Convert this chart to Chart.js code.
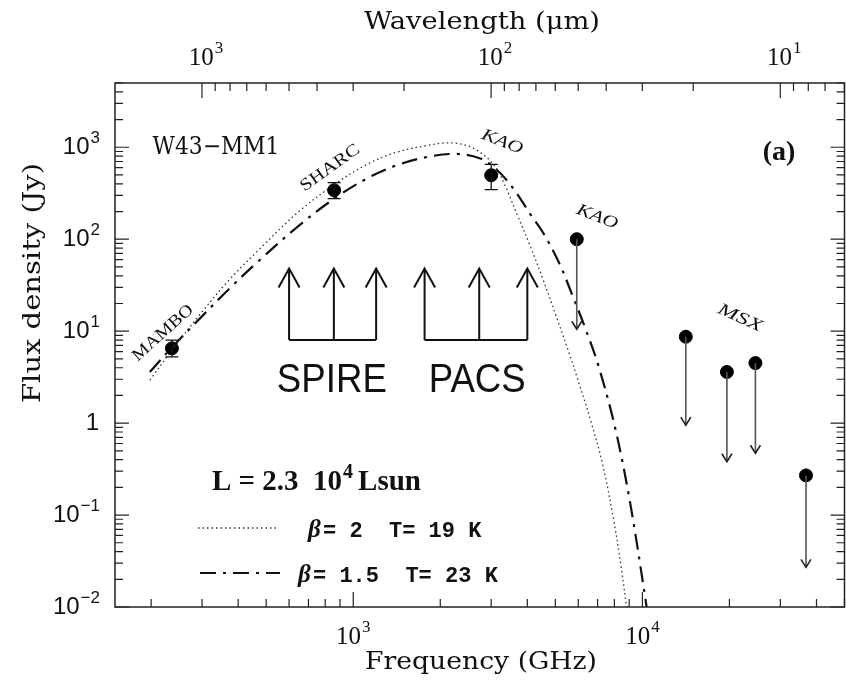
<!DOCTYPE html>
<html>
<head>
<meta charset="utf-8">
<script src="https://cdn.jsdelivr.net/npm/chart.js@4.4.0/dist/chart.umd.min.js"></script>
<style>
  html, body { margin: 0; padding: 0; background: #fff; overflow: hidden; }
  #wrap { width: 852px; height: 683px; }
</style>
</head>
<body>
<div id="wrap"><canvas id="sed" width="852" height="683"></canvas></div>
<script>
// ------------------- DATA -------------------

// detections with error bars
let detNames = ["MAMBO", "SHARC", "KAO"];
let detFreq = [236, 859, 3000];          // GHz
let detFlux = [6.5, 341, 496];           // Jy
let detHigh = [8.0, 413, 653];
let detLow = [5.26, 277, 347];

// upper limits (KAO 50um + MSX)
let limFreq = [5930, 14130, 19600, 24600, 36800];
let limFlux = [100, 8.7, 3.6, 4.5, 0.27];
let limEnd = [10.5, 0.95, 0.38, 0.47, 0.027];

// model beta=2, T=19 K (dotted)
let modAFreq = [198, 235, 294, 372, 471, 646, 866, 1123, 1423, 1803, 2030, 2286, 2573, 2896, 3134, 3391, 3669, 4067, 4541, 5031, 5576, 5986, 6633, 7293, 7955, 8474, 8884];
let modAFlux = [2.94, 6.08, 15.0, 36.0, 76.4, 198, 399, 658, 889, 1046, 1108, 1105, 995, 774, 581, 352, 193, 88.8, 36.0, 14.6, 5.80, 2.94, 1.05, 0.351, 0.0885, 0.0253, 0.0082];

// model beta=1.5, T=23 K (dash-dot)
let modBFreq = [198, 235, 294, 372, 471, 646, 866, 1123, 1423, 1803, 2286, 2785, 3060, 3391, 3728, 4067, 4541, 5153, 5756, 6378, 7067, 8081, 9096, 10320, 10486];
let modBFlux = [3.60, 6.56, 13.6, 28.8, 58.0, 139, 281, 463, 642, 784, 846, 746, 611, 441, 296, 193, 117, 55.2, 23.6, 10.3, 4.08, 0.843, 0.129, 0.0105, 0.0072];

// Herschel bands drawn as arrows (GHz) and the arrow span (Jy)
let spireBands = [600, 857, 1200];
let pacsBands = [1765, 2727, 4000];
let bandBase = 8;
let bandTip = 48;

// axis ticks
let freqMajor = [1e3, 1e4];
let lambdaMajor = [1000, 100, 10];
let fluxMajor = [1e3, 1e2, 10, 1, 0.1, 0.01];
let fluxExp = ["3", "2", "1", "", "\u22121", "\u22122"];

const C_UM = 299792.458; // GHz * um

// ------------------- HELPERS -------------------

function toXY(xs, ys) {
  return xs.map((v, i) => ({ x: v, y: ys[i] }));
}

function fitText(ctx, txt, cx, cy, width, font, angle) {
  ctx.save();
  ctx.translate(cx, cy);
  if (angle) ctx.rotate(angle);
  ctx.font = font;
  let w = ctx.measureText(txt).width;
  ctx.scale(width / w, 1);
  ctx.textAlign = "center";
  ctx.textBaseline = "middle";
  ctx.fillText(txt, 0, 0);
  ctx.restore();
}

function powLabel(ctx, exp, x, y, align, baseFont, supFont, rise) {
  ctx.font = baseFont;
  let wb = ctx.measureText("10").width;
  ctx.font = supFont;
  let ws = ctx.measureText(exp).width;
  let x0 = align === "right" ? x - wb - ws - 1 : x - (wb + ws + 1) / 2;
  ctx.textAlign = "left";
  ctx.textBaseline = "middle";
  ctx.font = baseFont;
  ctx.fillText("10", x0, y);
  ctx.font = supFont;
  ctx.fillText(exp, x0 + wb + 1, y - rise);
}

function minorList(min, max) {
  let out = [];
  for (let d = Math.floor(Math.log10(min)); d <= Math.ceil(Math.log10(max)); d++) {
    for (let k = 1; k < 10; k++) {
      let v = k * Math.pow(10, d);
      if (v >= min && v <= max) out.push({ v: v, major: k === 1 });
    }
  }
  return out;
}

function arrowHead(ctx, x, y, w, h, dir) {
  // open chevron, dir = 1 points down, -1 points up
  ctx.beginPath();
  ctx.moveTo(x - w / 2, y - dir * h);
  ctx.lineTo(x, y);
  ctx.lineTo(x + w / 2, y - dir * h);
  ctx.stroke();
}

// ------------------- EXTRA DRAWING -------------------

let decor = {
  id: "decor",
  afterDatasetsDraw(chart) {
    let ctx = chart.ctx;
    let sx = chart.scales.x, sy = chart.scales.y;
    ctx.save();

    // error bars
    ctx.strokeStyle = "#111";
    ctx.lineWidth = 1.3;
    detFreq.forEach((f, i) => {
      let px = sx.getPixelForValue(f);
      let top = sy.getPixelForValue(detHigh[i]);
      let bot = sy.getPixelForValue(detLow[i]);
      ctx.beginPath();
      ctx.moveTo(px, top); ctx.lineTo(px, bot);
      ctx.moveTo(px - 6.5, top); ctx.lineTo(px + 6.5, top);
      ctx.moveTo(px - 6.5, bot); ctx.lineTo(px + 6.5, bot);
      ctx.stroke();
    });

    // upper limit arrows
    limFreq.forEach((f, i) => {
      let px = sx.getPixelForValue(f);
      let y0 = sy.getPixelForValue(limFlux[i]);
      let y1 = sy.getPixelForValue(limEnd[i]);
      ctx.strokeStyle = "#555";
      ctx.lineWidth = 1.6;
      ctx.beginPath();
      ctx.moveTo(px, y0); ctx.lineTo(px, y1);
      ctx.stroke();
      ctx.strokeStyle = "#222";
      arrowHead(ctx, px, y1, 10, 8, 1);
    });

    // SPIRE / PACS band arrows
    ctx.strokeStyle = "#111";
    ctx.lineWidth = 2;
    [spireBands, pacsBands].forEach(bands => {
      let yb = sy.getPixelForValue(bandBase);
      let yt = sy.getPixelForValue(bandTip);
      let xs = bands.map(b => sx.getPixelForValue(b));
      ctx.beginPath();
      ctx.moveTo(xs[0], yb); ctx.lineTo(xs[xs.length - 1], yb);
      xs.forEach(x => { ctx.moveTo(x, yb); ctx.lineTo(x, yt + 1); });
      ctx.stroke();
      xs.forEach(x => arrowHead(ctx, x, yt, 21, 19, -1));
    });
    ctx.fillStyle = "#111";
    let yLab = sy.getPixelForValue(bandBase) + 41;
    ["SPIRE", "PACS"].forEach((t, i) => {
      let bands = i === 0 ? spireBands : pacsBands;
      let cx = sx.getPixelForValue(bands[1]);
      fitText(ctx, t, cx - 2, yLab, t === "SPIRE" ? 110 : 97, "40px 'Liberation Sans'");
    });
    ctx.restore();
  },
  afterDraw(chart) {
    let ctx = chart.ctx;
    let a = chart.chartArea;
    let sx = chart.scales.x, sy = chart.scales.y;
    ctx.save();

    // frame
    ctx.strokeStyle = "#222";
    ctx.lineWidth = 1.5;
    ctx.strokeRect(a.left, a.top, a.right - a.left, a.bottom - a.top);

    // ticks
    ctx.lineWidth = 1.2;
    ctx.beginPath();
    minorList(sx.min, sx.max).forEach(t => {
      let px = sx.getPixelForValue(t.v);
      let len = t.major ? 15 : 8;
      ctx.moveTo(px, a.bottom); ctx.lineTo(px, a.bottom - len);
    });
    minorList(C_UM / sx.max, C_UM / sx.min).forEach(t => {
      let px = sx.getPixelForValue(C_UM / t.v);
      let len = t.major ? 15 : 8;
      ctx.moveTo(px, a.top); ctx.lineTo(px, a.top + len);
    });
    minorList(sy.min, sy.max).forEach(t => {
      let py = sy.getPixelForValue(t.v);
      let len = t.major ? 14 : 8;
      ctx.moveTo(a.left, py); ctx.lineTo(a.left + len, py);
      ctx.moveTo(a.right, py); ctx.lineTo(a.right - len, py);
    });
    ctx.stroke();

    // tick labels
    ctx.fillStyle = "#111";
    freqMajor.forEach(v => {
      powLabel(ctx, String(Math.log10(v)), sx.getPixelForValue(v), 637, "center",
        "25px 'Liberation Serif'", "17px 'Liberation Serif'", 9);
    });
    lambdaMajor.forEach(v => {
      powLabel(ctx, String(Math.log10(v)), sx.getPixelForValue(C_UM / v) + 4, 58, "center",
        "25px 'Liberation Serif'", "17px 'Liberation Serif'", 9);
    });
    fluxMajor.forEach((v, i) => {
      let py = sy.getPixelForValue(v);
      if (fluxExp[i] === "") {
        ctx.font = "24px 'Liberation Sans'";
        ctx.textAlign = "right";
        ctx.textBaseline = "middle";
        ctx.fillText("1", 99, py);
      } else {
        powLabel(ctx, fluxExp[i], 100, py, "right",
          "24px 'Liberation Sans'", "17px 'Liberation Sans'", 9);
      }
    });

    // axis titles
    fitText(ctx, "Wavelength (\u03bcm)", 482, 22, 236, "25px 'DejaVu Serif'");
    fitText(ctx, "Frequency (GHz)", 481, 662, 232, "25px 'DejaVu Serif'");
    fitText(ctx, "Flux density (Jy)", 33, 283, 240, "25px 'DejaVu Serif'", -Math.PI / 2);

    // labels in the plot
    fitText(ctx, "W43\u2212MM1", 216, 148, 127, "24px 'DejaVu Serif'");
    ctx.font = "bold 28px 'Liberation Serif'";
    ctx.textAlign = "center";
    ctx.textBaseline = "middle";
    ctx.fillText("(a)", 779, 153);

    let tags = [
      ["MAMBO", 163, 333, 76, -0.73, "17px 'Liberation Serif'"],
      ["SHARC", 330, 168, 69, -0.62, "17px 'Liberation Serif'"],
      ["KAO", 502, 142, 43, 0.38, "italic 17px 'Liberation Serif'"],
      ["KAO", 597, 217, 43, 0.38, "italic 17px 'Liberation Serif'"],
      ["MSX", 740, 318, 47, 0.42, "italic 17px 'Liberation Serif'"]
    ];
    tags.forEach(t => fitText(ctx, t[0], t[1], t[2], t[3], t[5], t[4]));

    // luminosity + legend
    ctx.textAlign = "left";
    ctx.textBaseline = "alphabetic";
    ctx.font = "bold 29px 'Liberation Serif'";
    ctx.fillText("L = 2.3  10", 212, 490);
    let w1 = ctx.measureText("L = 2.3  10").width;
    ctx.font = "bold 20px 'Liberation Serif'";
    ctx.fillText("4", 212 + w1 + 1, 478);
    ctx.font = "bold 29px 'Liberation Serif'";
    ctx.fillText("Lsun", 212 + w1 + 16, 490);

    ctx.strokeStyle = "#333";
    ctx.lineWidth = 1.3;
    ctx.setLineDash([1.5, 3]);
    ctx.beginPath(); ctx.moveTo(198, 528); ctx.lineTo(278, 528); ctx.stroke();
    ctx.strokeStyle = "#111";
    ctx.lineWidth = 2.2;
    ctx.setLineDash([16, 7, 3, 7]);
    ctx.beginPath(); ctx.moveTo(200, 573); ctx.lineTo(280, 573); ctx.stroke();
    ctx.setLineDash([]);

    ctx.font = "bold italic 25px 'Liberation Serif'";
    ctx.fillText("\u03b2", 308, 537);
    ctx.fillText("\u03b2", 298, 582);
    ctx.font = "bold 22px 'Liberation Mono'";
    ctx.fillText("= 2  T= 19 K", 323, 537);
    ctx.fillText("= 1.5  T= 23 K", 313, 582);

    ctx.restore();
  }
};

// ------------------- CHART -------------------

let chartSed = new Chart(document.getElementById("sed").getContext("2d"), {
  type: "line",
  data: {
    datasets: [
      {
        data: toXY(modAFreq, modAFlux),
        borderColor: "#333",
        borderWidth: 1.3,
        borderDash: [1.5, 3],
        pointRadius: 0,
        tension: 0.35,
        fill: false
      },
      {
        data: toXY(modBFreq, modBFlux),
        borderColor: "#111",
        borderWidth: 2.2,
        borderDash: [16, 7, 3, 7],
        pointRadius: 0,
        tension: 0.35,
        fill: false
      },
      {
        type: "scatter",
        data: toXY(detFreq, detFlux),
        pointRadius: 6.5,
        pointBackgroundColor: "#000",
        pointBorderColor: "#000",
        showLine: false
      },
      {
        type: "scatter",
        data: toXY(limFreq, limFlux),
        pointRadius: 6.5,
        pointBackgroundColor: "#000",
        pointBorderColor: "#000",
        showLine: false
      }
    ]
  },
  options: {
    responsive: false,
    animation: false,
    devicePixelRatio: 1,
    layout: { padding: { left: 115, right: 1, top: 83, bottom: 76 } },
    plugins: {
      legend: { display: false },
      tooltip: { enabled: false }
    },
    scales: {
      x: {
        type: "logarithmic",
        min: 150,
        max: 50000,
        display: false
      },
      y: {
        type: "logarithmic",
        min: 0.01,
        max: 5000,
        display: false
      }
    }
  },
  plugins: [decor]
});
</script>
</body>
</html>
